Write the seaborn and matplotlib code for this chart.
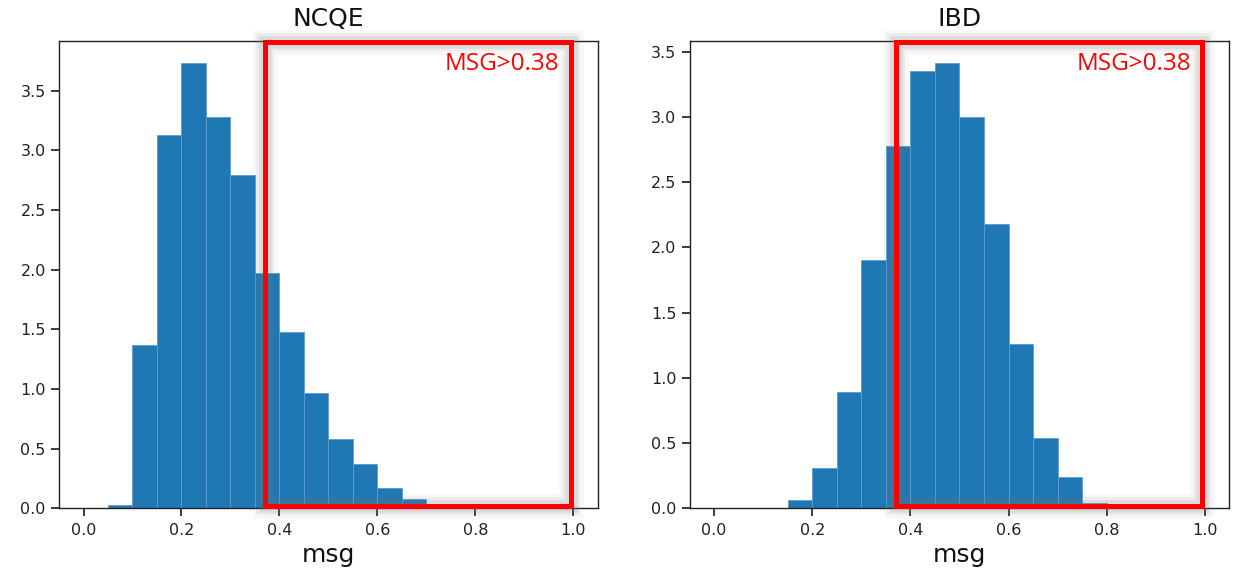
import numpy as np
import pandas as pd
import seaborn as sns
import matplotlib
matplotlib.use("Agg")
import matplotlib.pyplot as plt
from matplotlib.patches import Rectangle
from matplotlib import patheffects as pe

# Histogram bins (msg score, width 0.05)
bin_edges = [round(0.05 * i, 2) for i in range(21)]

# Density per bin
ncqe_density = [0.0, 0.03, 1.37, 3.13, 3.73, 3.28, 2.79, 1.97, 1.48, 0.97,
                0.58, 0.37, 0.17, 0.08, 0.02, 0.005, 0.003, 0.0, 0.0, 0.0]
ibd_density = [0.0, 0.0, 0.005, 0.06, 0.31, 0.89, 1.90, 2.78, 3.35, 3.41,
               3.00, 2.18, 1.26, 0.54, 0.24, 0.04, 0.005, 0.0, 0.0, 0.0]

panel_titles = ["NCQE", "IBD"]
threshold_label = "MSG>0.38"
box_left = 0.37

sns.set_theme(style="ticks")
plt.rcParams.update({
    "font.family": ["DejaVu Sans"],
    "text.color": "#111111",
    "axes.labelcolor": "#111111",
    "axes.edgecolor": "#222222",
    "axes.linewidth": 1.0,
    "xtick.color": "#222222",
    "ytick.color": "#222222",
    "xtick.labelsize": 11.5,
    "ytick.labelsize": 11.5,
    "xtick.major.pad": 4.5,
})

fig = plt.figure(figsize=(12.35, 5.71), dpi=100)
ax_left = fig.add_axes([0.0478, 0.110, 0.4362, 0.818])
ax_right = fig.add_axes([0.5583, 0.110, 0.4372, 0.818])

centers = [(a + b) / 2 for a, b in zip(bin_edges[:-1], bin_edges[1:])]

glow = [pe.Stroke(linewidth=18, foreground="#7a7a7a", alpha=0.05),
        pe.Stroke(linewidth=13, foreground="#7a7a7a", alpha=0.09),
        pe.Stroke(linewidth=9, foreground="#7a7a7a", alpha=0.14),
        pe.Normal()]

for ax, title, dens in zip([ax_left, ax_right], panel_titles,
                           [ncqe_density, ibd_density]):
    df = pd.DataFrame({"msg": centers, "density": dens})
    sns.histplot(data=df, x="msg", weights="density", bins=bin_edges,
                 stat="count", ax=ax, color="#1f77b4", alpha=1.0,
                 edgecolor="#5d9cd0", linewidth=0.6)
    ax.set_xlim(-0.05, 1.05)
    ax.set_ylim(0, max(dens) * 1.05)
    ax.set_xticks([0.0, 0.2, 0.4, 0.6, 0.8, 1.0])
    ax.set_yticks(np.arange(0, max(dens) * 1.05, 0.5))
    ax.yaxis.set_major_formatter(matplotlib.ticker.FormatStrFormatter("%.1f"))
    ax.xaxis.set_major_formatter(matplotlib.ticker.FormatStrFormatter("%.1f"))
    ax.set_ylabel("")
    ax.set_xlabel("msg", fontsize=18, labelpad=4)
    ax.set_title(title, fontsize=18, pad=11)

    # Highlight region above the threshold
    rect = Rectangle((box_left, 0.005), 0.995 - box_left, 0.993,
                     transform=ax.get_xaxis_transform(), fill=False,
                     edgecolor="#ff0000", linewidth=3.6, clip_on=False,
                     zorder=5, path_effects=glow)
    ax.add_patch(rect)
    ax.text(0.972, 0.952, threshold_label, transform=ax.get_xaxis_transform(),
            ha="right", va="center", color="#ff0000", fontsize=17.5,
            family=["Open Sans", "DejaVu Sans"], zorder=6)

fig.savefig("out.png", dpi=100)
